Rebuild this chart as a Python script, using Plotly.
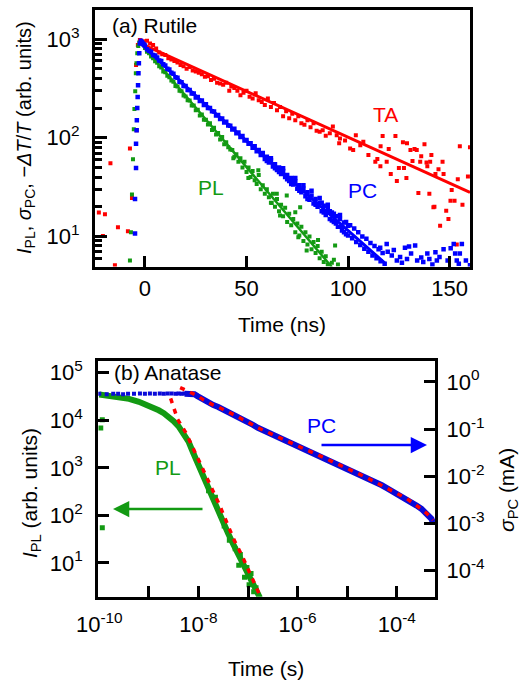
import plotly.graph_objects as go

# ================= (a) Rutile : values =================
# TA (transient absorption) points
ta_t = [-22.7, -19.7, -17.0, -20.7, -14.8, -13.3, -8.4, -6.4, -7.4, -4.4, -4.1,
        -3.5, -2.5, -1.0, 1.0, 2.5, 4.0, 5.5, 7.0, 8.5, 10.0, 11.5, 13.0, 14.5, 16.0,
        17.5, 19.0, 20.5, 22.0, 23.5, 25.0, 26.5, 28.0, 29.5, 31.0, 32.5, 34.0, 35.5,
        37.0, 38.5, 40.0, 41.5, 42.5, 44.0, 45.5, 47.0, 48.5, 50.0, 51.5, 53.0, 54.5,
        56.0, 57.5, 59.0, 60.5, 62.0, 63.5, 65.0, 66.5, 68.0, 69.5, 71.0, 72.5, 74.0,
        75.5, 77.0, 78.5, 80.0, 81.5, 83.0, 84.5, 86.0, 87.5, 89.0, 91.0, 92.5, 94.4,
        95.6, 96.0, 98.5, 101.0, 102.5, 103.8, 106.0, 107.5, 110.0, 113.4, 114.4,
        115.9, 116.0, 117.0, 119.0, 120.0, 121.0, 123.3, 124.0, 125.0, 127.0, 127.5,
        128.7, 129.0, 130.7, 131.7, 132.7, 133.8, 134.6, 135.5, 136.0, 137.6, 138.6,
        139.0, 140.0, 140.4, 141.0, 142.0, 142.5, 143.0, 144.5, 145.3, 146.5, 147.0,
        148.3, 149.4, 150.4, 151.0, 152.4, 153.5, 154.0, 155.0, 156.3, 159.0, 160.0]
ta_y = [17.5, 16.8, 55, 10.1, 5.1, 12.4, 11.3, 24.5, 78, 545, 119,
        870, 980, 950, 960, 900, 870, 800, 730, 700, 690, 640, 620, 600, 580,
        545, 530, 500, 520, 480, 470, 455, 440, 415, 420, 385, 395, 360,
        355, 345, 360, 300, 330, 320, 300, 270, 285, 300, 260, 250, 282,
        240, 230, 215, 250, 205, 225, 190, 205, 165, 185, 158, 175, 150,
        165, 140, 135, 150, 128, 140, 118, 115, 119, 105, 111, 130, 106,
        88, 98, 94, 78, 75, 106, 84, 91, 67, 57, 61,
        51.5, 82, 104, 57, 77, 43, 104, 36.5, 49.5, 90, 49.5,
        39, 88, 75, 58, 77, 75, 27.6, 57, 65, 86, 56,
        51.5, 27, 57, 67, 19.8, 20, 43, 48, 12.8, 57, 43,
        18.2, 15, 23, 29.6, 23, 8.3, 38, 82, 21, 40.5, 80]
ta_fit_t = [-2.5, 160]
ta_fit_y = [910, 28]

# PC (photoconductivity) points
pc_t = [-4.9, -4.9, -4.4, -4.4, -4.1, -4.0, -3.8, -3.6, -3.4, -3.2, -3.0, -2.8, -2.5,
        -2.0, -1.5, -1.0, -0.5,
        0, 1, 2, 3, 4, 5, 6, 7, 8, 9, 10, 11, 12, 13, 14, 15, 16, 17, 18, 19, 20,
        21, 22, 23, 24, 25, 26, 27, 28, 29, 30, 31, 32, 33, 34, 35, 36, 37, 38, 39,
        40, 41, 42, 43, 44, 45, 46, 47, 48, 49, 50, 51, 52, 53, 54, 55, 56, 57, 58,
        59, 60, 61, 62, 63, 64, 65, 66, 67, 68, 69, 70, 71, 72, 73, 74, 75, 76, 77,
        78, 79, 80, 81, 82, 83, 84, 85, 86, 87, 88, 89, 90, 91, 92, 93, 94, 95, 96,
        97, 98, 99, 100,
        60, 62, 64, 66, 68, 70, 72, 74, 76, 78, 80, 82, 84, 86, 87, 88, 90, 91, 92,
        93, 94, 96, 97, 98, 99, 100, 101, 102, 103, 104, 105, 106, 107, 108, 109,
        110, 111, 112, 113, 114, 115, 116, 117, 118,
        119, 128, 133, 139, 143, 147, 152, 156, 155, 124, 129, 137, 143.7, 160,
        115.8, 121.5, 125.6, 131, 134, 140, 145, 149, 152.7, 153.5, 158, 119.5,
        122.5, 126.5, 130, 136, 141.5, 150.5, 154.5]
pc_y = [10.7, 24, 49.5, 87, 119, 150, 200, 258, 340, 450, 570, 720, 900,
        960, 930, 900, 880,
        860, 790, 760, 745, 690, 680, 650, 605, 600, 555, 540, 500, 490, 455, 445,
        410, 405, 370, 365, 335, 335, 305, 305, 280, 280, 255, 258, 235, 238, 215,
        218, 200, 200, 185, 184, 168, 170, 155, 157, 143, 145, 133, 132, 121, 123,
        111, 113, 102, 104, 94, 95, 87, 88, 79, 82, 73, 75, 67, 70, 61, 64, 56, 59,
        51, 54, 47, 50, 43, 46, 40, 42, 36.5, 39, 33.5, 36, 30.5, 33, 28, 30.5,
        25.5, 28, 23.5, 26, 21.5, 24, 20, 22, 18, 20.5, 16.5, 19, 15, 17.5, 14, 16,
        12.5, 15, 11.5, 13.8, 10.5, 12.8,
        58, 62, 49, 45, 49, 38, 34, 39, 29, 33, 24, 29, 21, 24.5, 22, 17.5, 21, 18,
        14.5, 17, 13.5, 16.5, 12.5, 11, 14, 10.2, 13, 9.6, 12, 8.8, 11, 8.2, 10,
        7.5, 9.5, 7.0, 8.6, 6.4, 8.0, 6.0, 7.4, 5.6, 6.8, 5.3,
        8.4, 7.7, 8.1, 6.7, 6.9, 7.4, 8.4, 8.4, 6.7, 5.7, 5.9, 5.5, 5.7, 5.1,
        7.7, 6.4, 6.2, 6.7, 5.7, 5.9, 6.2, 5.7, 6.7, 5.7, 5.7, 7.0,
        7.3, 5.4, 7.9, 6.1, 5.2, 7.6, 5.3]
pc_fit_t = [-2.0, 10, 27, 50, 96, 118]
pc_fit_y = [900, 520, 244, 93, 13.7, 5.4]

# PL (photoluminescence) points
pl_t = [-7.4, -6.9, -6.4, -5.9, -5.5, -5.2, -4.8, -4.5, -4.2, -3.8, -3.3, -2.8,
        0, 1, 2, 3, 4, 5, 6, 7, 8, 9, 10, 11, 12, 13, 14, 15, 16, 17, 18, 19, 20,
        21, 22, 23, 24, 25, 26, 27, 28, 29, 30, 31, 32, 33, 34, 35, 36, 37, 38, 39,
        40, 41, 42, 43, 44, 45, 46, 47, 48, 49, 50, 51, 52, 53, 54, 55, 56, 57, 58,
        59, 60, 61, 62, 63, 64, 65, 66, 67, 68, 69, 70, 71, 72, 73, 74, 75, 76, 77,
        78, 79, 80, 81, 82, 83, 84, 85, 86, 87, 88, 89, 90, 92, 93, 95,
        43.5, 50.9, 62.4, 66.5, 75.5, 79.6, 85.2, 93.6, 76.4, 74, 69.8, 64.9, 55.8,
        46.8]
pl_y = [5.7, 11.0, 26.6, 60.6, 122, 195, 296, 450, 570, 720, 850, 920,
        810, 745, 720, 665, 640, 595, 575, 530, 515, 470, 460, 425, 410, 380, 370,
        335, 330, 300, 295, 268, 262, 240, 238, 212, 212, 190, 192, 168, 172, 152,
        152, 136, 140, 120, 126, 108, 112, 96, 102, 86, 90, 80, 76, 75, 64, 68, 57,
        62, 50, 57, 45, 50, 40, 46, 37, 34, 42, 30, 33, 27, 30, 25, 22, 27, 20, 24,
        18, 21, 16, 19.5, 14, 17, 13, 15, 11, 13.5, 10.2, 12.5, 9, 11, 8.3, 10, 7.4,
        8.8, 6.8, 8, 6.0, 7, 5.5, 6.3, 5.2, 5.4, 5.8, 5.2,
        62, 39, 21.8, 16.3, 9.8, 7.2, 9.2, 8.1, 19.8, 17.6, 26, 27, 46.9, 59]
pl_fit_t = [-2.0, 92]
pl_fit_y = [900, 4.9]

a_xticks = [0, 50, 100, 150]
a_yticks = [10, 100, 1000]
a_yticklabels = ["10<sup>1</sup>", "10<sup>2</sup>", "10<sup>3</sup>"]
a_yminor = [5, 6, 7, 8, 9, 20, 30, 40, 50, 60, 70, 80, 90,
            200, 300, 400, 500, 600, 700, 800, 900]

# ================= (b) Anatase =================
# PC, right axis (mA): sparse early points and dense band
b_pc_sparse_t = [1.0e-10, 1.41e-10, 1.91e-10, 2.40e-10, 3.02e-10, 3.80e-10, 5.01e-10,
                 6.61e-10, 8.32e-10, 1.05e-9, 1.32e-9, 1.66e-9, 2.0e-9, 2.40e-9,
                 2.88e-9, 3.47e-9, 3.98e-9, 4.57e-9, 5.25e-9]
b_pc_sparse_y = [0.56, 0.55, 0.56, 0.56, 0.55, 0.56, 0.56, 0.57, 0.56, 0.57, 0.56,
                 0.57, 0.56, 0.57, 0.57, 0.56, 0.57, 0.56, 0.57]
b_pc_t = [5.25e-9, 6.03e-9, 7.08e-9, 8.32e-9, 9.55e-9,
          1.26e-8, 1.58e-8, 2.0e-8, 2.51e-8, 3.16e-8, 3.98e-8, 5.01e-8, 6.31e-8, 7.94e-8, 1e-7,
          1.26e-7, 1.58e-7, 2.0e-7, 2.51e-7, 3.16e-7, 3.98e-7, 5.01e-7, 6.31e-7, 7.94e-7, 1e-6,
          1.26e-6, 1.58e-6, 2.0e-6, 2.51e-6, 3.16e-6, 3.98e-6, 5.01e-6, 6.31e-6, 7.94e-6, 1e-5,
          1.26e-5, 1.58e-5, 2.0e-5, 2.51e-5, 3.16e-5, 3.98e-5, 5.01e-5, 6.31e-5, 7.94e-5, 1e-4,
          1.26e-4, 1.58e-4, 2.0e-4, 2.51e-4, 3.16e-4, 3.98e-4, 4.47e-4, 5.01e-4, 5.37e-4]
b_pc_y = [0.562, 0.562, 0.589, 0.550, 0.501,
          0.417, 0.363, 0.324, 0.295, 0.263, 0.234, 0.209, 0.182, 0.158, 0.141,
          0.123, 0.107, 0.0955, 0.0851, 0.0759, 0.0676, 0.0603, 0.0537, 0.0479, 0.0427,
          0.0389, 0.0355, 0.0324, 0.0288, 0.0257, 0.0229, 0.0204, 0.0186, 0.0166, 0.0151,
          0.0135, 0.0120, 0.0107, 0.00933, 0.00832, 0.00724, 0.00646, 0.00562, 0.00490, 0.00437,
          0.00389, 0.00339, 0.00288, 0.00240, 0.00204, 0.00166, 0.00145, 0.00126, 0.00105]
b_pc_fit_t = [4.27e-9, 6.31e-9, 9.55e-9,
              1.26e-8, 1.58e-8, 2.0e-8, 2.51e-8, 3.16e-8, 3.98e-8, 5.01e-8, 6.31e-8, 7.94e-8, 1e-7,
              1.58e-7, 2.51e-7, 3.98e-7, 6.31e-7, 1e-6, 1.58e-6, 2.51e-6, 3.98e-6, 6.31e-6, 1e-5,
              1.58e-5, 2.51e-5, 3.98e-5, 6.31e-5, 1e-4, 1.58e-4, 2.51e-4, 3.98e-4, 5.37e-4]
b_pc_fit_y = [0.759, 0.631, 0.513,
              0.417, 0.363, 0.324, 0.295, 0.263, 0.234, 0.209, 0.182, 0.158, 0.141,
              0.107, 0.0851, 0.0676, 0.0537, 0.0427, 0.0355, 0.0288, 0.0229, 0.0186, 0.0151,
              0.0120, 0.00933, 0.00724, 0.00562, 0.00437, 0.00339, 0.00240, 0.00166, 0.00118]

# PL, left axis (arb. units)
b_pl_t = [1e-10, 1.58e-10, 2.51e-10, 3.98e-10, 6.31e-10, 1e-9, 1.26e-9, 1.58e-9, 2e-9,
          2.51e-9, 3.16e-9, 3.98e-9, 5.01e-9, 6.31e-9, 7.94e-9, 1e-8, 1.26e-8, 1.58e-8,
          2e-8, 2.51e-8, 3.16e-8, 3.98e-8, 5.01e-8, 6.31e-8, 7.94e-8, 1e-7, 1.26e-7,
          1.58e-7, 1.74e-7]
b_pl_y = [34700, 33100, 30900, 28200, 24500, 20400, 18600, 16200, 14100, 12000, 9550,
          7410, 5370, 3550, 2000, 1120, 631, 363, 209, 120, 69.2, 41.7, 25.1, 15.1,
          9.12, 5.75, 3.31, 2.19, 1.86]
b_pl_noise_t = [1.07e-10, 1.15e-10, 1.15e-10, 1.6e-8, 2.2e-8, 3.3e-8, 4.2e-8, 5.5e-8,
                6.5e-8, 7.0e-8, 8.5e-8, 9.5e-8, 1.05e-7, 1.15e-7, 1.3e-7, 1.45e-7]
b_pl_noise_y = [6900, 10200, 55, 330, 240, 60, 30, 20, 9, 15, 5, 8, 3.5, 6, 2.5, 3]
b_pl_fit_t = [2.75e-9, 3.80e-9, 5.62e-9, 8.13e-9, 1.20e-8, 1.78e-8, 2.63e-8, 3.72e-8,
              5.25e-8, 7.76e-8, 1.10e-7, 1.58e-7, 1.78e-7]
b_pl_fit_y = [28800, 10500, 5370, 2290, 977, 407, 170, 74.1, 30.2, 13.5, 5.89, 2.51, 1.95]

b_xticks = [1e-10, 1e-9, 1e-8, 1e-7, 1e-6, 1e-5, 1e-4]
b_xticklabels = ["10<sup>-10</sup>", "", "10<sup>-8</sup>", "", "10<sup>-6</sup>", "",
                 "10<sup>-4</sup>"]
b_lticks = [10, 100, 1000, 10000, 100000]
b_lticklabels = ["10<sup>1</sup>", "10<sup>2</sup>", "10<sup>3</sup>", "10<sup>4</sup>",
                 "10<sup>5</sup>"]
b_rticks = [1e-4, 1e-3, 1e-2, 1e-1, 1]
b_rticklabels = ["10<sup>-4</sup>", "10<sup>-3</sup>", "10<sup>-2</sup>", "10<sup>-1</sup>",
                 "10<sup>0</sup>"]

# ================= styling =================
RED = "#ff0000"
BLUE = "#0000ff"
BLUE_D = "#0a0ad8"
GREEN = "#139a13"
FONT = "Liberation Sans, Arial, sans-serif"
FS = 20
TFS = 22

fig = go.Figure()

def pts(x, y, color, xa, ya, size=4):
    fig.add_trace(go.Scatter(x=x, y=y, mode="markers", xaxis=xa, yaxis=ya,
                             marker=dict(symbol="square", size=size, color=color,
                                         line=dict(width=0)),
                             showlegend=False, hoverinfo="skip"))

def line(x, y, color, xa, ya, width=2, dash="solid"):
    fig.add_trace(go.Scatter(x=x, y=y, mode="lines", xaxis=xa, yaxis=ya,
                             line=dict(color=color, width=width, dash=dash),
                             showlegend=False, hoverinfo="skip"))

# panel (a)
pts(ta_t, ta_y, RED, "x", "y")
line(ta_fit_t, ta_fit_y, RED, "x", "y", width=3)
pts(pl_t, pl_y, GREEN, "x", "y")
line(pl_fit_t, pl_fit_y, GREEN, "x", "y", width=2.5)
line(pc_fit_t, pc_fit_y, BLUE, "x", "y", width=3)
pts(pc_t, pc_y, BLUE, "x", "y", size=4.5)

# panel (b)
line(b_pl_t, b_pl_y, GREEN, "x2", "y2", width=6)
pts(b_pl_noise_t, b_pl_noise_y, GREEN, "x2", "y2", size=5)
line(b_pl_fit_t, b_pl_fit_y, RED, "x2", "y2", width=3.5, dash="5px,6px")
pts(b_pc_sparse_t, b_pc_sparse_y, BLUE_D, "x2", "y3", size=4)
line(b_pc_t, b_pc_y, BLUE_D, "x2", "y3", width=6)
line(b_pc_fit_t, b_pc_fit_y, RED, "x2", "y3", width=3.5, dash="5px,6px")

axis_common = dict(showline=True, linecolor="black", linewidth=3, ticks="inside",
                   tickcolor="black", tickwidth=3, showgrid=False, zeroline=False,
                   automargin=False,
                   tickfont=dict(family=FONT, size=TFS, color="black"))

fig.update_layout(
    template="none",
    width=524, height=682,
    margin=dict(l=0, r=0, t=0, b=0, pad=0, autoexpand=False),
    paper_bgcolor="white", plot_bgcolor="white",
    font=dict(family=FONT, size=FS, color="black"),
    xaxis=dict(domain=[0.1813, 0.8969], range=[-24.6, 160], anchor="y",
               tickvals=a_xticks, ticklen=11, mirror=True, ticklabelstandoff=0,
               **axis_common),
    yaxis=dict(domain=[0.6092, 0.9853], type="log", range=[0.695, 3.294], anchor="x",
               tickvals=a_yticks, ticktext=a_yticklabels, ticklen=12, mirror=True,
               ticklabelstandoff=8,
               minor=dict(tickvals=a_yminor, ticks="inside", ticklen=7, tickwidth=2.5,
                          tickcolor="black", showgrid=False),
               **axis_common),
    xaxis2=dict(domain=[0.1876, 0.8302], type="log", range=[-10.02, -3.228], anchor="y2",
                tickvals=b_xticks, ticktext=b_xticklabels, ticklen=11, mirror=True,
                ticklabelstandoff=6, **axis_common),
    yaxis2=dict(domain=[0.1251, 0.4711], type="log", range=[0.292, 5.252], anchor="x2",
                tickvals=b_lticks, ticktext=b_lticklabels, ticklen=11,
                ticklabelstandoff=8, **axis_common),
    yaxis3=dict(type="log", range=[-4.55, 0.45], anchor="x2", overlaying="y2",
                side="right", tickvals=b_rticks, ticktext=b_rticklabels, ticklen=11,
                ticklabelstandoff=4, **axis_common),
)

def txt(x, y, text, color="black", xanchor="center", angle=0, size=FS):
    fig.add_annotation(x=x, y=y, xref="paper", yref="paper", text=text,
                       showarrow=False, xanchor=xanchor, yanchor="middle",
                       textangle=angle, font=dict(family=FONT, size=size, color=color))

txt(0.2099, 0.9619, "(a) Rutile", xanchor="left", size=21)
txt(0.7357, 0.8314, "TA", RED, size=21)
txt(0.6927, 0.7214, "PC", BLUE, size=21)
txt(0.4027, 0.7258, "PL", GREEN, size=21)
txt(0.5382, 0.5235, "Time (ns)", size=21)
txt(0.0477, 0.7991, "<i>I</i><sub>PL</sub>, <i>σ</i><sub>PC</sub>, −<i>ΔT</i>/<i>T</i> (arb. units)",
    angle=-90)
txt(0.2137, 0.4531, "(b) Anatase", xanchor="left", size=21)
txt(0.6126, 0.3768, "PC", BLUE, size=21)
txt(0.3197, 0.3152, "PL", GREEN, size=21)
txt(0.5076, 0.0205, "Time (s)", size=21)
txt(0.0592, 0.2771, "<i>I</i><sub>PL</sub> (arb. units)", angle=-90, size=21)
txt(0.9695, 0.2815, "<i>σ</i><sub>PC</sub> (mA)", angle=-90, size=21)

# arrows
fig.add_annotation(x=427 / 524, y=1 - 445 / 682, xref="paper", yref="paper", text="",
                   showarrow=True, ax=-107, ay=0, arrowhead=2, arrowsize=1.3,
                   arrowwidth=2.5, arrowcolor=BLUE)
fig.add_annotation(x=113 / 524, y=1 - 509 / 682, xref="paper", yref="paper", text="",
                   showarrow=True, ax=91, ay=0, arrowhead=2, arrowsize=1.3,
                   arrowwidth=2.5, arrowcolor=GREEN)

fig.write_html("out.html")
